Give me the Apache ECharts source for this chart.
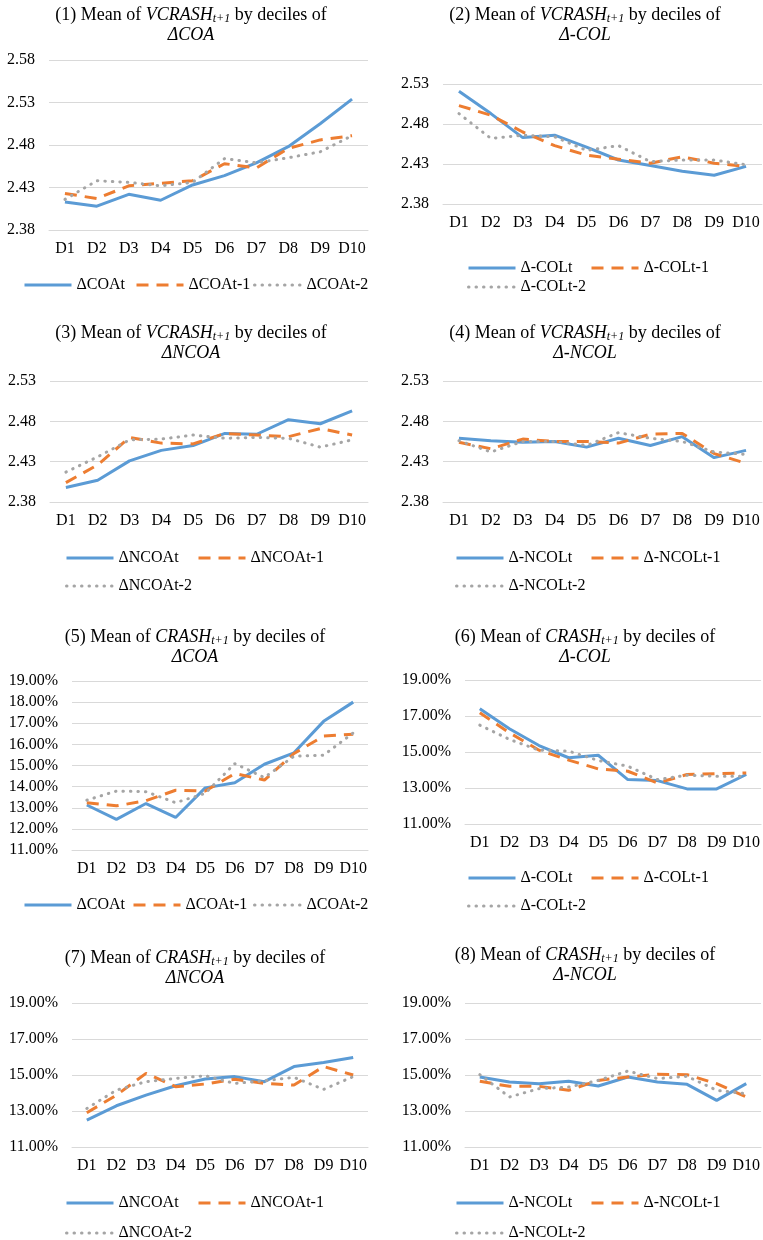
<!DOCTYPE html>
<html>
<head>
<meta charset="utf-8">
<script src="https://cdn.jsdelivr.net/npm/echarts@6/dist/echarts.min.js"></script>
<style>
html, body { margin: 0; padding: 0; background: #fff; }
#chart { width: 763px; height: 1240px; }
</style>
</head>
<body>
<div id="chart"></div>
<script>
var deciles = ['D1', 'D2', 'D3', 'D4', 'D5', 'D6', 'D7', 'D8', 'D9', 'D10'];

// (1) VCRASH by deciles of dCOA
var vcCoaT  = [2.413, 2.408, 2.422, 2.415, 2.433, 2.444, 2.459, 2.478, 2.505, 2.534];
var vcCoaT1 = [2.423, 2.417, 2.432, 2.435, 2.438, 2.458, 2.453, 2.476, 2.486, 2.491];
var vcCoaT2 = [2.416, 2.438, 2.436, 2.432, 2.436, 2.464, 2.459, 2.465, 2.472, 2.491];
// (2) VCRASH by deciles of d-COL
var vcColT  = [2.521, 2.493, 2.463, 2.466, 2.451, 2.435, 2.428, 2.421, 2.416, 2.427];
var vcColT1 = [2.503, 2.491, 2.470, 2.453, 2.441, 2.436, 2.431, 2.439, 2.431, 2.427];
var vcColT2 = [2.493, 2.462, 2.466, 2.464, 2.447, 2.453, 2.433, 2.435, 2.435, 2.429];
// (3) VCRASH by deciles of dNCOA
var vcNcoaT  = [2.398, 2.407, 2.431, 2.444, 2.450, 2.465, 2.464, 2.482, 2.477, 2.493];
var vcNcoaT1 = [2.404, 2.426, 2.460, 2.453, 2.452, 2.465, 2.463, 2.461, 2.471, 2.463];
var vcNcoaT2 = [2.417, 2.436, 2.457, 2.458, 2.463, 2.459, 2.460, 2.459, 2.448, 2.457];
// (4) VCRASH by deciles of d-NCOL
var vcNcolT  = [2.459, 2.456, 2.454, 2.455, 2.448, 2.459, 2.450, 2.461, 2.435, 2.444];
var vcNcolT1 = [2.454, 2.446, 2.458, 2.455, 2.455, 2.453, 2.464, 2.465, 2.440, 2.428];
var vcNcolT2 = [2.456, 2.442, 2.455, 2.455, 2.450, 2.466, 2.459, 2.455, 2.442, 2.439];
// (5) CRASH (%) by deciles of dCOA
var crCoaT  = [13.13, 12.45, 13.20, 12.54, 13.94, 14.18, 15.06, 15.60, 17.09, 18.00];
var crCoaT1 = [13.24, 13.09, 13.33, 13.83, 13.79, 14.62, 14.31, 15.57, 16.39, 16.48];
var crCoaT2 = [13.36, 13.79, 13.76, 13.24, 13.68, 15.09, 14.43, 15.44, 15.49, 16.54];
// (6) CRASH (%) by deciles of d-COL
var crColT  = [17.40, 16.29, 15.36, 14.68, 14.82, 13.47, 13.41, 12.95, 12.95, 13.75];
var crColT1 = [17.18, 16.07, 15.10, 14.55, 14.06, 13.93, 13.28, 13.75, 13.80, 13.84];
var crColT2 = [16.49, 15.70, 15.10, 15.05, 14.53, 14.21, 13.47, 13.71, 13.65, 13.65];
// (7) CRASH (%) by deciles of dNCOA
var crNcoaT  = [12.49, 13.29, 13.88, 14.40, 14.78, 14.91, 14.63, 15.47, 15.69, 15.97];
var crNcoaT1 = [12.90, 13.88, 15.09, 14.35, 14.50, 14.76, 14.53, 14.44, 15.47, 15.00];
var crNcoaT2 = [13.14, 14.16, 14.63, 14.81, 14.96, 14.53, 14.68, 14.87, 14.20, 14.91];
// (8) CRASH (%) by deciles of d-NCOL
var crNcolT  = [14.89, 14.61, 14.52, 14.65, 14.39, 14.89, 14.61, 14.48, 13.59, 14.52];
var crNcolT1 = [14.65, 14.37, 14.37, 14.15, 14.70, 14.89, 15.04, 15.02, 14.52, 13.78];
var crNcolT2 = [15.02, 13.78, 14.24, 14.33, 14.70, 15.22, 14.80, 14.93, 14.15, 13.96];

var coaNames  = ['ΔCOAt', 'ΔCOAt-1', 'ΔCOAt-2'];
var colNames  = ['Δ-COLt', 'Δ-COLt-1', 'Δ-COLt-2'];
var ncoaNames = ['ΔNCOAt', 'ΔNCOAt-1', 'ΔNCOAt-2'];
var ncolNames = ['Δ-NCOLt', 'Δ-NCOLt-1', 'Δ-NCOLt-2'];

var FONT = 'Liberation Serif';
var colors = ['#5b9bd5', '#ed7d31', '#a5a5a5'];
var dashes = ['solid', [12, 8], [0.5, 7]];

// one entry per small chart, positions in page pixels
var panels = [
    {no: 1, dep: 'VCRASH', by: 'ΔCOA', names: coaNames, data: [vcCoaT, vcCoaT1, vcCoaT2],
     grid: [49, 60, 319, 170], y: [2.38, 2.58, 0.05], pct: false, title: [191, 15],
     legend: [[23, 285], [135, 285], [253, 285]]},
    {no: 2, dep: 'VCRASH', by: 'Δ-COL', names: colNames, data: [vcColT, vcColT1, vcColT2],
     grid: [443, 84, 319, 120], y: [2.38, 2.53, 0.05], pct: false, title: [585, 15],
     legend: [[467, 268], [590, 268], [467, 287]]},
    {no: 3, dep: 'VCRASH', by: 'ΔNCOA', names: ncoaNames, data: [vcNcoaT, vcNcoaT1, vcNcoaT2],
     grid: [50, 381, 318, 121], y: [2.38, 2.53, 0.05], pct: false, title: [191, 333],
     legend: [[65, 558], [197, 558], [65, 586]]},
    {no: 4, dep: 'VCRASH', by: 'Δ-NCOL', names: ncolNames, data: [vcNcolT, vcNcolT1, vcNcolT2],
     grid: [443, 381, 319, 121], y: [2.38, 2.53, 0.05], pct: false, title: [585, 333],
     legend: [[455, 558], [590, 558], [455, 586]]},
    {no: 5, dep: 'CRASH', by: 'ΔCOA', names: coaNames, data: [crCoaT, crCoaT1, crCoaT2],
     grid: [72, 681, 296, 169], y: [11, 19, 1], pct: true, title: [195, 637],
     legend: [[23, 905], [132, 905], [253, 905]]},
    {no: 6, dep: 'CRASH', by: 'Δ-COL', names: colNames, data: [crColT, crColT1, crColT2],
     grid: [465, 680, 297, 144], y: [11, 19, 2], pct: true, title: [585, 637],
     legend: [[467, 878], [590, 878], [467, 906]]},
    {no: 7, dep: 'CRASH', by: 'ΔNCOA', names: ncoaNames, data: [crNcoaT, crNcoaT1, crNcoaT2],
     grid: [72, 1003, 296, 144], y: [11, 19, 2], pct: true, title: [195, 958],
     legend: [[65, 1203], [197, 1203], [65, 1233]]},
    {no: 8, dep: 'CRASH', by: 'Δ-NCOL', names: ncolNames, data: [crNcolT, crNcolT1, crNcolT2],
     grid: [465, 1003, 297, 144], y: [11, 19, 2], pct: true, title: [585, 955],
     legend: [[455, 1203], [590, 1203], [455, 1233]]}
];

var option = {
    backgroundColor: '#fff',
    animation: false,
    title: [], legend: [], grid: [], xAxis: [], yAxis: [], series: []
};

panels.forEach(function(p, i) {
    option.title.push({
        text: '{n|(' + p.no + ') Mean of }{i|' + p.dep + '}{s|t+1}{n| by deciles of}\n{i|' + p.by + '}',
        left: p.title[0], top: p.title[1] - 10, textAlign: 'center', padding: 0,
        textStyle: {
            fontWeight: 'normal',
            rich: {
                n: {fontFamily: FONT, fontSize: 18, fontWeight: 'normal', color: '#000', lineHeight: 20},
                i: {fontFamily: FONT, fontSize: 18, fontWeight: 'normal', fontStyle: 'italic', color: '#000', lineHeight: 20},
                s: {fontFamily: FONT, fontSize: 12, fontWeight: 'normal', fontStyle: 'italic', color: '#000', lineHeight: 12, verticalAlign: 'bottom'}
            }
        }
    });
    option.grid.push({left: p.grid[0], top: p.grid[1], width: p.grid[2], height: p.grid[3]});
    option.xAxis.push({
        type: 'category', gridIndex: i, data: deciles, boundaryGap: true,
        axisLine: {lineStyle: {color: '#d9d9d9'}},
        axisTick: {show: false},
        axisLabel: {margin: 11, fontFamily: FONT, fontSize: 16, color: '#000', interval: 0}
    });
    option.yAxis.push({
        type: 'value', gridIndex: i, min: p.y[0], max: p.y[1], interval: p.y[2],
        axisLine: {show: false}, axisTick: {show: false},
        splitLine: {lineStyle: {color: '#d9d9d9', width: 1}},
        axisLabel: {
            margin: 14, fontFamily: FONT, fontSize: 16, color: '#000',
            formatter: p.pct ? function(v) { return v.toFixed(2) + '%'; } : function(v) { return v.toFixed(2); }
        }
    });
    p.names.forEach(function(name, k) {
        option.series.push({
            name: name, type: 'line', xAxisIndex: i, yAxisIndex: i,
            data: p.data[k], symbol: 'none', smooth: false,
            itemStyle: {color: colors[k]},
            lineStyle: {color: colors[k], width: 3, type: dashes[k], cap: k === 2 ? 'round' : 'butt'}
        });
        // legend symbol hidden, only the line sample is drawn
        option.legend.push({
            data: [name], left: p.legend[k][0], top: p.legend[k][1] - 8,
            padding: 0, itemWidth: 47, itemHeight: 14, itemGap: 0, selectedMode: false,
            itemStyle: {color: 'rgba(0,0,0,0)', borderWidth: 0},
            lineStyle: {width: 3},
            textStyle: {fontFamily: FONT, fontSize: 16, color: '#000'}
        });
    });
});

var chart = echarts.init(document.getElementById('chart'));
chart.setOption(option);
</script>
</body>
</html>
